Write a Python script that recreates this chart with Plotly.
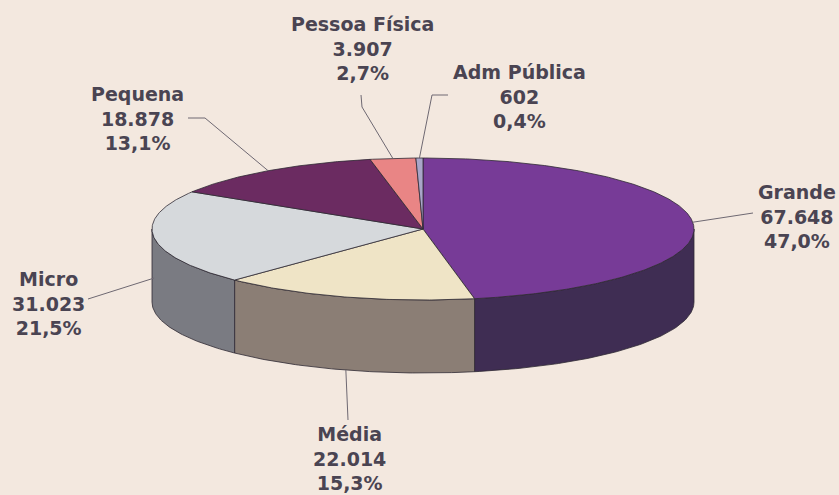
import numpy as np
import plotly.graph_objects as go

# ---- data ----
categories = ["Grande", "Média", "Micro", "Pequena", "Pessoa Física", "Adm Pública"]
values = [67648, 22014, 31023, 18878, 3907, 602]
value_labels = ["67.648", "22.014", "31.023", "18.878", "3.907", "602"]
pct_labels = ["47,0%", "15,3%", "21,5%", "13,1%", "2,7%", "0,4%"]

# ---- styling ----
top_colors = ["#773B97", "#EFE4C6", "#D6D9DC", "#6B2B61", "#E98585", "#A9A6C9"]
side_colors = ["#3F2D53", "#8B7E75", "#7A7B82", "#3A1A36", "#9A5050", "#6A6880"]
edge_color = "#2E2A33"
bg = "#F3E8DF"
text_color = "#4A4452"

W, H = 839, 495
cx, cy = 423, 229        # centre of top ellipse (pixels)
ra, rb = 271, 71         # semi axes
depth = 73               # thickness of the pie

# label centres and leader line start points (layout)
label_pos = {
    "Grande": (797, 216),
    "Média": (349, 458),
    "Micro": (48, 303),
    "Pequena": (137, 118),
    "Pessoa Física": (362, 48),
    "Adm Pública": (519, 96),
}
leader_start = {
    "Grande": [(753, 213)],
    "Média": [(348, 420)],
    "Micro": [(88, 299)],
    "Pequena": [(188, 118), (205, 118)],
    "Pessoa Física": [(361, 95), (362, 107)],
    "Adm Pública": [(448, 95), (432, 95)],
}
leader_on_side = {"Micro": 0.55, "Média": 1.0}

total = float(sum(values))
fracs = np.array(values) / total
bounds = np.concatenate([[0], np.cumsum(fracs)]) * 360.0


def pt(theta_deg, dz=0.0):
    t = np.radians(theta_deg)
    return cx + ra * np.sin(t), cy - rb * np.cos(t) + dz


fig = go.Figure()

# sides (front half only: 90..270 deg clockwise from top)
for i in range(len(values)):
    t1, t2 = max(bounds[i], 90), min(bounds[i + 1], 270)
    if t2 <= t1:
        continue
    th = np.linspace(t1, t2, 80)
    xs_top, ys_top = pt(th)
    xs_bot, ys_bot = pt(th[::-1], depth)
    xs = np.concatenate([xs_top, xs_bot, xs_top[:1]])
    ys = np.concatenate([ys_top, ys_bot, ys_top[:1]])
    fig.add_trace(go.Scatter(x=xs, y=ys, mode="lines", fill="toself",
                             fillcolor=side_colors[i],
                             line=dict(color=edge_color, width=0.8),
                             hoverinfo="skip", showlegend=False))

# tops
for i in range(len(values)):
    th = np.linspace(bounds[i], bounds[i + 1], max(4, int((bounds[i + 1] - bounds[i]) * 2)))
    xs, ys = pt(th)
    xs = np.concatenate([[cx], xs, [cx]])
    ys = np.concatenate([[cy], ys, [cy]])
    fig.add_trace(go.Scatter(x=xs, y=ys, mode="lines", fill="toself",
                             fillcolor=top_colors[i],
                             line=dict(color=edge_color, width=0.8),
                             hoverinfo="skip", showlegend=False,
                             name=categories[i]))

# leader lines and labels
for i, name in enumerate(categories):
    mid = (bounds[i] + bounds[i + 1]) / 2
    dz = depth * leader_on_side.get(name, 0.0)
    ex, ey = pt(mid, dz)
    pts = leader_start[name] + [(ex, ey)]
    fig.add_trace(go.Scatter(x=[p[0] for p in pts], y=[p[1] for p in pts],
                             mode="lines", line=dict(color="#6E6872", width=1),
                             hoverinfo="skip", showlegend=False))
    lx, ly = label_pos[name]
    fig.add_annotation(x=lx, y=ly, xref="x", yref="y", showarrow=False,
                       text=f"{name}<br>{value_labels[i]}<br>{pct_labels[i]}",
                       align="center", xanchor="center", yanchor="middle",
                       font=dict(family="DejaVu Sans", size=19, color=text_color,
                                 weight="bold"))

fig.update_layout(
    width=W, height=H,
    margin=dict(l=0, r=0, t=0, b=0),
    paper_bgcolor=bg, plot_bgcolor=bg,
    xaxis=dict(range=[0, W], visible=False, fixedrange=True),
    yaxis=dict(range=[H, 0], visible=False, fixedrange=True),
    showlegend=False,
)

fig.write_html("out.html",
               config={"displayModeBar": False},
               post_script="document.body.style.margin='0';document.body.style.background='" + bg + "';")
